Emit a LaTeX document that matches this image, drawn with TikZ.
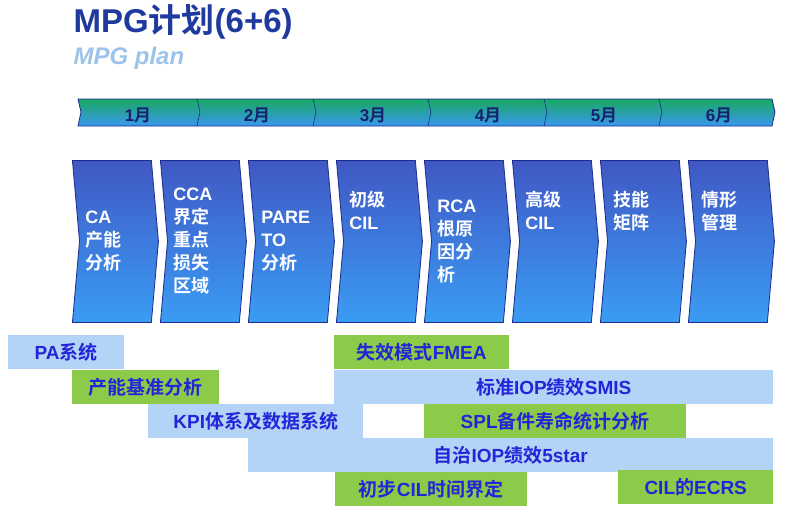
\documentclass[tikz,border=0pt]{standalone}
\usepackage{fontspec}
\setmainfont{Liberation Sans}
\newfontfamily\cjkfont{Noto Sans CJK SC}[BoldFont={Noto Sans CJK SC Bold}]
\newcommand{\zh}[1]{{\cjkfont #1}}
\usetikzlibrary{shapes.symbols}
\definecolor{navy}{HTML}{1B2A8C}
\definecolor{titleblue}{HTML}{1F3A9E}
\definecolor{planblue}{HTML}{9CC3EA}
\definecolor{barblue}{HTML}{B4D4F7}
\definecolor{bargreen}{HTML}{8CCB4A}
\definecolor{bartext}{HTML}{2424D8}
\definecolor{phasetop}{HTML}{4058C4}
\definecolor{phasebot}{HTML}{3A9CF4}
\definecolor{linegreen}{HTML}{18A860}
\definecolor{lineblue}{HTML}{3A98F0}
\tikzset{
  phase/.style={signal, signal from=west, signal to=east, signal pointer angle=170,
    draw=navy, line width=0.8pt, top color=phasetop, bottom color=phasebot,
    minimum width=86pt, minimum height=162pt, inner sep=0pt, anchor=north west,
    text=white, font=\bfseries\fontsize{18}{23}\selectfont, align=left, text width=60pt},
  bar/.style={minimum height=34pt, inner sep=0pt, anchor=north west,
    text=bartext, font=\bfseries\fontsize{19}{22}\selectfont},
  blue bar/.style={bar, fill=barblue},
  green bar/.style={bar, fill=bargreen},
  month/.style={text=navy!80!black, font=\bfseries\fontsize{17}{19}\selectfont}
}
\begin{document}
\begin{tikzpicture}[x=1pt,y=-1pt]
    \useasboundingbox (0,0) rectangle (785,512);
    % Titulo
    \node[anchor=west, text=titleblue, font=\bfseries\fontsize{33}{38}\selectfont] (title) at (70,22) {MPG\zh{计划}(6+6)};
    \node[anchor=west, text=planblue, font=\bfseries\itshape\fontsize{24}{28}\selectfont] (plan) at (70,58) {MPG plan};

    % Linea de tiempo
    \shade[top color=linegreen, bottom color=lineblue, draw=navy, line width=0.8pt]
      (78,99) -- (772,99) -- (775,112) -- (772,126) -- (78,126) -- (81,112) -- cycle;
    \foreach \x [count=\i] in {78,197,313,428,544,659} {
        \node[month] (m\i) at (\x+60,115) {\i\zh{月}};
    }
    \foreach \x in {197,313,428,544,659}
        \draw[navy, line width=0.6pt] (\x,99) -- (\x+3,112) -- (\x,126);

    % Fases
    \node[phase] (ca)   at (72,160)  {CA\\\zh{产能}\\\zh{分析}};
    \node[phase] (cca)  at (160,160) {CCA\\\zh{界定}\\\zh{重点}\\\zh{损失}\\\zh{区域}};
    \node[phase] (par)  at (248,160) {PARE\\TO\\\zh{分析}};
    \node[phase] (cil1) at (336,160) {\zh{初级}\\CIL\\[40pt]~};
    \node[phase] (rca)  at (424,160) {RCA\\\zh{根原}\\\zh{因分}\\\zh{析}};
    \node[phase] (cil2) at (512,160) {\zh{高级}\\CIL\\[40pt]~};
    \node[phase] (skl)  at (600,160) {\zh{技能}\\\zh{矩阵}\\[40pt]~};
    \node[phase] (sit)  at (688,160) {\zh{情形}\\\zh{管理}\\[40pt]~};

    % Barras
    \node[blue bar, minimum width=116pt]  (pa)   at (8,335)   {PA\zh{系统}};
    \node[green bar, minimum width=147pt] (base) at (72,370)  {\zh{产能基准分析}};
    \node[green bar, minimum width=175pt] (fmea) at (334,335) {\zh{失效模式}FMEA};
    \node[blue bar, minimum width=439pt]  (smis) at (334,370) {\zh{标准}IOP\zh{绩效}SMIS};
    \node[blue bar, minimum width=215pt]  (kpi)  at (148,404) {KPI\zh{体系及数据系统}};
    \node[green bar, minimum width=262pt] (spl)  at (424,404) {SPL\zh{备件寿命统计分析}};
    \node[blue bar, minimum width=525pt]  (star) at (248,438) {\zh{自治}IOP\zh{绩效}5star};
    \node[green bar, minimum width=192pt] (tcil) at (335,472) {\zh{初步}CIL\zh{时间界定}};
    \node[green bar, minimum width=155pt] (ecrs) at (618,470) {CIL\zh{的}ECRS};
\end{tikzpicture}
\end{document}
